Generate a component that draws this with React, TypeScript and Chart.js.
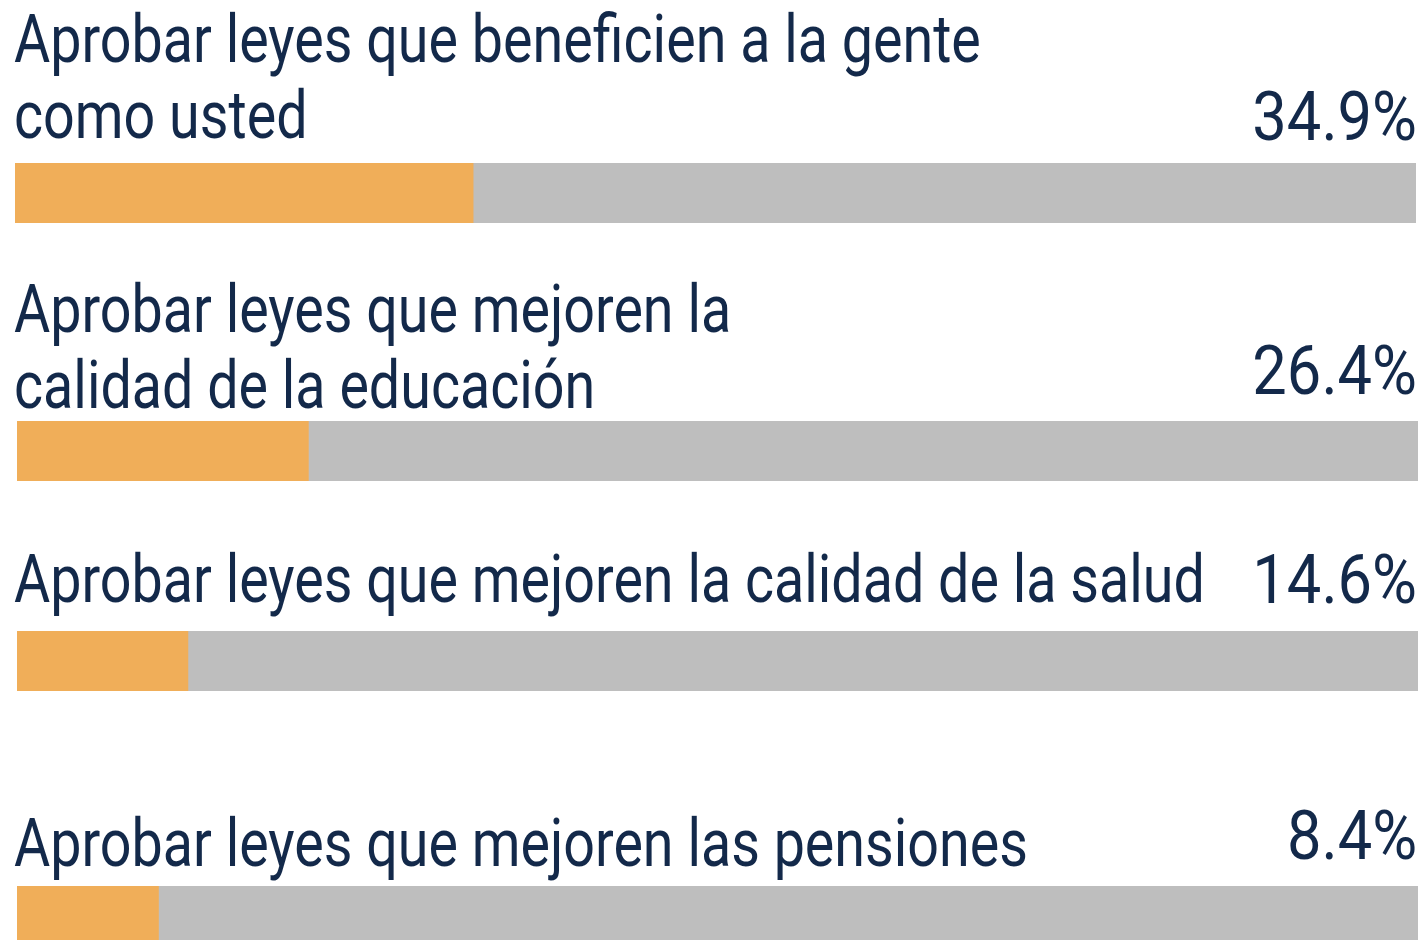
import React, { useEffect, useRef } from "react";
import { Chart, registerables } from "chart.js";

Chart.register(...registerables);

// ---- data ----
const categoryLines: string[][] = [
  ["Aprobar leyes que beneficien a la gente", "como usted"],
  ["Aprobar leyes que mejoren la", "calidad de la educación"],
  ["Aprobar leyes que mejoren la calidad de la salud"],
  ["Aprobar leyes que mejoren las pensiones"],
];
const percentValues = [34.9, 26.4, 14.6, 8.4];
// length of the orange part of each bar as drawn in the reference, in % of the grey track
const barShare = [32.7, 20.8, 12.2, 10.1];
const trackMax = 100;

// ---- styling / layout ----
const ORANGE = "#f0ae59";
const GRAY = "#bebebe";
const TEXT = "#13294a";
const FONT = "Roboto, 'Noto Sans', sans-serif";
const LABEL_SIZE = 67;
const VALUE_SIZE = 69;
const LABEL_SCALE = 0.83;
const VALUE_SCALE = 0.89;
const BAR_H = 60;

const rowLayout = [
  { barTop: 163, barLeft: 15, barRight: 1416, lines: [62, 138], valueBase: 140 },
  { barTop: 421, barLeft: 17, barRight: 1418, lines: [332, 408], valueBase: 394 },
  { barTop: 631, barLeft: 17, barRight: 1418, lines: [602], valueBase: 603 },
  { barTop: 886, barLeft: 17, barRight: 1418, lines: [866], valueBase: 859 },
];

const fmt = (v: number) => `${v.toFixed(1)}%`;

function BarTrack({ index }: { index: number }) {
  const ref = useRef<HTMLCanvasElement>(null);
  const lay = rowLayout[index];
  const w = lay.barRight - lay.barLeft;
  useEffect(() => {
    if (!ref.current) return;
    const chart = new Chart(ref.current, {
      type: "bar",
      data: {
        labels: [categoryLines[index].join(" ")],
        datasets: [
          {
            data: [barShare[index]],
            backgroundColor: ORANGE,
            borderWidth: 0,
            barPercentage: 1,
            categoryPercentage: 1,
          },
          {
            data: [trackMax - barShare[index]],
            backgroundColor: GRAY,
            borderWidth: 0,
            barPercentage: 1,
            categoryPercentage: 1,
          },
        ],
      },
      options: {
        indexAxis: "y",
        responsive: false,
        maintainAspectRatio: false,
        animation: false,
        devicePixelRatio: 1,
        layout: { padding: 0 },
        plugins: { legend: { display: false }, tooltip: { enabled: false } },
        scales: {
          x: { stacked: true, min: 0, max: trackMax, display: false },
          y: { stacked: true, display: false },
        },
      },
    });
    return () => chart.destroy();
  }, [index]);
  return (
    <canvas
      ref={ref}
      width={w}
      height={BAR_H}
      style={{ position: "absolute", left: lay.barLeft, top: lay.barTop, width: w, height: BAR_H }}
    />
  );
}

// baseline offset for line-height == font-size with Roboto metrics
const baseTop = (baseline: number, size: number) => baseline - 0.842 * size;

export default function App() {
  return (
    <div
      style={{
        position: "absolute",
        left: 0,
        top: 0,
        width: 1425,
        height: 940,
        overflow: "hidden",
        background: "#ffffff",
        fontFamily: FONT,
        color: TEXT,
      }}
    >
      {rowLayout.map((lay, i) => (
        <React.Fragment key={i}>
          {categoryLines[i].map((line, j) => (
            <div
              key={j}
              style={{
                position: "absolute",
                left: 14,
                top: baseTop(lay.lines[j], LABEL_SIZE),
                fontSize: LABEL_SIZE,
                lineHeight: `${LABEL_SIZE}px`,
                fontWeight: 400,
                whiteSpace: "nowrap",
                transform: `scaleX(${LABEL_SCALE})`,
                transformOrigin: "left center",
              }}
            >
              {line}
            </div>
          ))}
          <div
            style={{
              position: "absolute",
              right: 8,
              top: baseTop(lay.valueBase, VALUE_SIZE),
              fontSize: VALUE_SIZE,
              lineHeight: `${VALUE_SIZE}px`,
              fontWeight: 400,
              whiteSpace: "nowrap",
              transform: `scaleX(${VALUE_SCALE})`,
              transformOrigin: "right center",
            }}
          >
            {fmt(percentValues[i])}
          </div>
          <BarTrack index={i} />
        </React.Fragment>
      ))}
    </div>
  );
}
